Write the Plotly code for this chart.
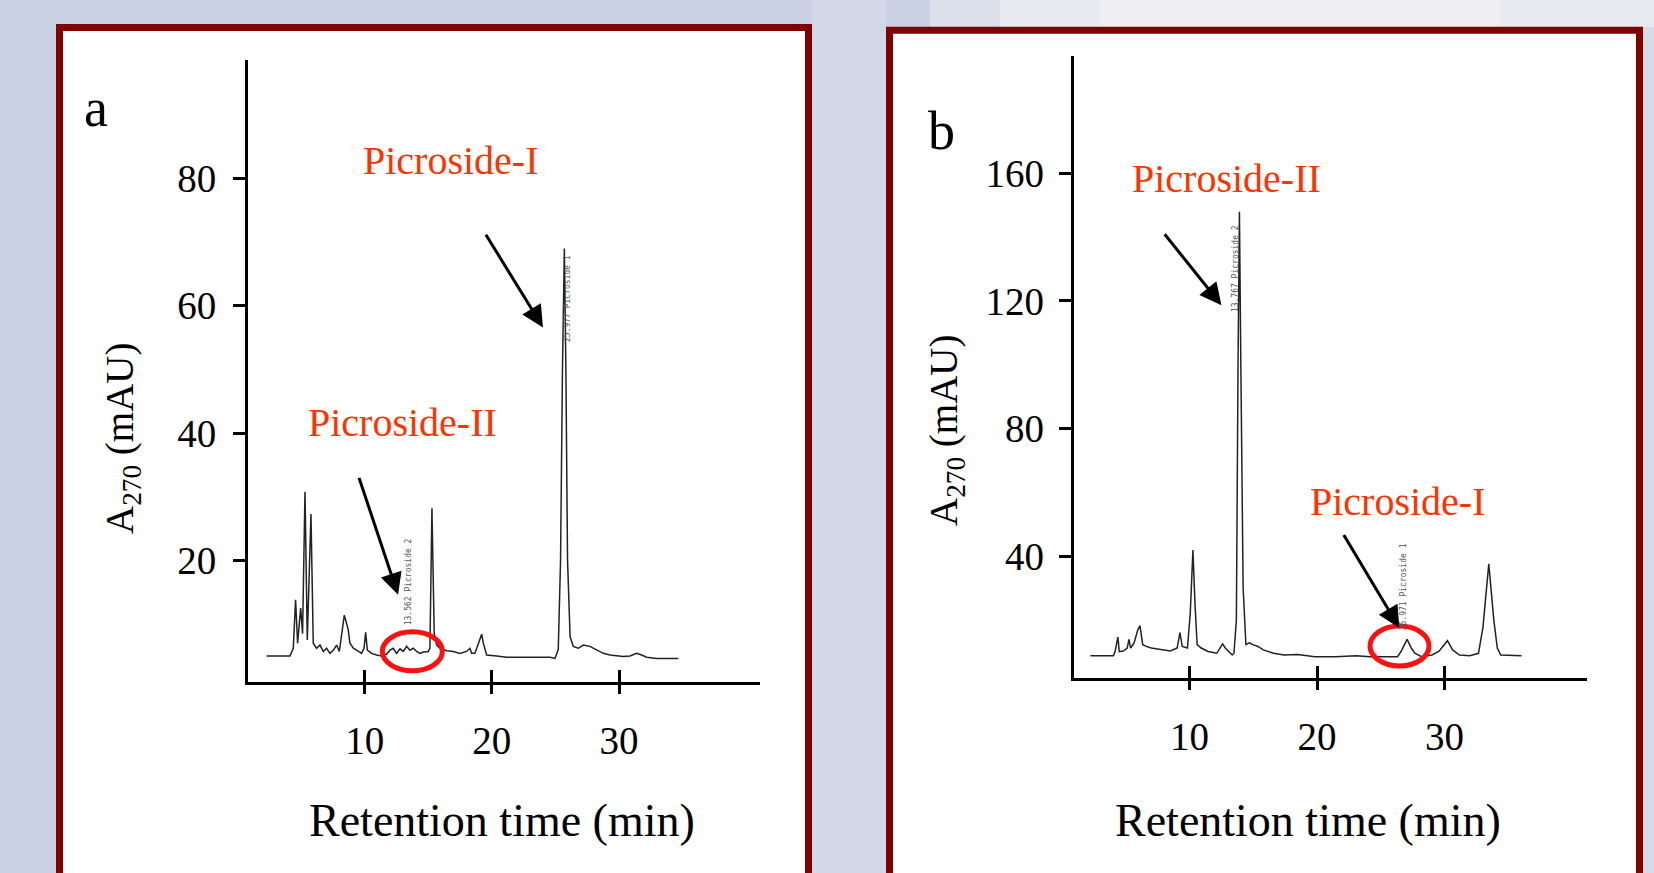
import plotly.graph_objects as go

W, H = 1654, 873


def px(x):
    return x / W


def py(y):
    return 1 - y / H


# ---------------- data ----------------
time_a = [2.29, 4.13, 4.39, 4.57, 4.73, 4.97, 5.12, 5.31, 5.49, 5.78, 5.96, 6.22, 6.49, 6.75,
          7.01, 7.27, 7.53, 7.80, 8.01, 8.19, 8.40, 8.58, 8.71, 8.84, 9.11, 9.37, 9.76, 9.95,
          10.08, 10.21, 10.55, 10.94, 11.33, 11.73, 11.99, 12.25, 12.51, 12.78, 13.04, 13.30,
          13.56, 13.82, 14.09, 14.35, 14.61, 15.00, 15.13, 15.29, 15.47, 15.66, 15.92, 16.44,
          16.97, 17.49, 18.02, 18.28, 18.41, 18.67, 19.07, 19.20, 19.33, 19.59, 20.38, 21.16,
          24.57, 24.96, 25.22, 25.40, 25.55, 25.70, 25.82, 25.95, 26.15, 26.40, 26.80, 27.19,
          27.71, 28.24, 28.76, 29.29, 29.81, 30.33, 30.86, 31.38, 31.77, 32.17, 32.95, 34.66]
abs_a = [5.0, 5.0, 6.2, 13.8, 7.0, 12.5, 8.5, 30.8, 7.5, 27.3, 7.0, 6.2, 6.7, 5.7,
         6.2, 5.4, 5.9, 6.7, 5.7, 8.0, 11.4, 10.1, 9.1, 7.0, 6.2, 5.9, 5.4, 6.2,
         8.7, 5.9, 5.4, 5.15, 5.0, 5.3, 5.9, 6.2, 5.4, 6.1, 5.7, 6.5,
         5.9, 6.2, 5.7, 5.4, 5.6, 5.7, 6.2, 28.2, 8.5, 6.7, 6.2, 5.8,
         5.7, 5.4, 5.7, 6.2, 5.4, 5.4, 7.5, 8.4, 7.0, 5.15, 5.0, 4.8,
         4.8, 4.6, 6.0, 20.0, 50.0, 69.0, 50.0, 20.0, 8.0, 6.5, 6.2, 6.7,
         6.5, 5.9, 5.4, 5.15, 5.0, 4.9, 5.0, 5.4, 5.15, 4.8, 4.6, 4.6]

time_b = [2.21, 4.02, 4.15, 4.37, 4.48, 4.83, 5.10, 5.24, 5.37, 5.64, 5.91, 6.10, 6.32, 6.59,
          6.99, 7.40, 7.94, 8.48, 9.02, 9.24, 9.42, 9.83, 10.05, 10.26, 10.42, 10.59, 10.91,
          11.45, 12.13, 12.40, 12.59, 12.80, 13.07, 13.34, 13.48, 13.67, 13.80, 13.91, 14.02,
          14.20, 14.42, 14.69, 14.96, 15.37, 15.78, 16.18, 16.59, 17.40, 18.48, 19.83, 21.45,
          23.07, 24.15, 26.32, 26.59, 27.07, 27.40, 27.67, 28.21, 29.02, 29.56, 30.24, 30.64,
          31.18, 31.99, 32.67, 33.02, 33.48, 33.88, 34.15, 34.42, 36.05]
abs_b = [8.8, 8.8, 10.1, 14.6, 10.1, 10.3, 11.2, 13.9, 11.2, 12.8, 16.6, 18.2, 12.25, 11.7,
         11.2, 10.95, 10.6, 10.3, 11.2, 16.0, 11.7, 11.2, 22.0, 41.9, 25.2, 12.25, 11.2,
         10.1, 9.55, 11.2, 12.5, 11.2, 10.1, 9.0, 9.55, 20.0, 100.0, 148.0, 100.0,
         30.0, 12.25, 12.8, 12.25, 11.7, 10.6, 10.1, 9.55, 9.0, 9.2, 8.5, 8.5,
         8.8, 8.5, 8.5, 10.1, 13.9, 11.2, 9.55, 8.5, 9.0, 10.1, 13.5, 10.6,
         9.0, 8.8, 9.55, 17.6, 37.6, 19.8, 11.2, 9.0, 8.8]

x_ticks = [10, 20, 30]
x_tick_text = ["10", "20", "30"]
y_ticks_a = [20, 40, 60, 80]
y_ticks_b = [40, 80, 120, 160]

SERIF = "Liberation Serif, Times New Roman, serif"
RED_TXT = "#FF3300"

fig = go.Figure()
line_style = dict(color="#222222", width=1.5)
fig.add_trace(go.Scatter(x=time_a, y=abs_a, xaxis="x", yaxis="y", mode="lines",
                         line=line_style, showlegend=False, hoverinfo="skip"))
fig.add_trace(go.Scatter(x=time_b, y=abs_b, xaxis="x2", yaxis="y2", mode="lines",
                         line=line_style, showlegend=False, hoverinfo="skip"))
# helper traces for the inner half of the x ticks
fig.add_trace(go.Scatter(x=[], y=[], xaxis="x3", yaxis="y", showlegend=False, hoverinfo="skip"))
fig.add_trace(go.Scatter(x=[], y=[], xaxis="x4", yaxis="y2", showlegend=False, hoverinfo="skip"))


def xaxis_main(dom, rng, anchor):
    return dict(domain=dom, range=rng, anchor=anchor, tickmode="array", tickvals=x_ticks,
                ticktext=x_tick_text, ticks="outside", ticklen=9, tickwidth=3, tickcolor="black",
                showline=True, linecolor="black", linewidth=3, showgrid=False, zeroline=False,
                tickfont=dict(family=SERIF, size=39, color="black"), ticklabelstandoff=13,
                fixedrange=True)


def xaxis_inner(over, dom, rng, anchor):
    return dict(overlaying=over, domain=dom, range=rng, anchor=anchor, tickmode="array",
                tickvals=x_ticks, ticks="inside", ticklen=12, tickwidth=3, tickcolor="black",
                showticklabels=False, showline=False, showgrid=False, zeroline=False,
                fixedrange=True)


def yaxis_main(dom, rng, anchor, vals, standoff):
    return dict(domain=dom, range=rng, anchor=anchor, tickmode="array", tickvals=vals,
                ticks="outside", ticklen=12, tickwidth=3, tickcolor="black",
                showline=True, linecolor="black", linewidth=3, showgrid=False, zeroline=False,
                tickfont=dict(family=SERIF, size=39, color="black"), ticklabelstandoff=standoff,
                fixedrange=True)


dom_xa = [px(248), px(759.5)]
dom_ya = [py(682), py(60)]
rng_xa = [0.83, 41.04]
dom_xb = [px(1073.8), px(1586.5)]
dom_yb = [py(678), py(55.7)]
rng_xb = [0.91, 41.15]

fig.update_layout(
    width=W, height=H, margin=dict(l=0, r=0, t=0, b=0),
    paper_bgcolor="#C9D1E3", plot_bgcolor="rgba(0,0,0,0)",
    xaxis=xaxis_main(dom_xa, rng_xa, "y"),
    yaxis=yaxis_main(dom_ya, [0.9, 98.6], "x", y_ticks_a, 9),
    xaxis2=xaxis_main(dom_xb, rng_xb, "y2"),
    yaxis2=yaxis_main(dom_yb, [1.8, 196.9], "x2", y_ticks_b, 7),
    xaxis3=xaxis_inner("x", dom_xa, rng_xa, "y"),
    xaxis4=xaxis_inner("x2", dom_xb, rng_xb, "y2"),
)

shapes = []
# slide background patches (soft lighter areas)
bg_patches = [
    (812, 886, 0, 873, "#D2D8E7"),
    (930, 1000, 0, 27, "#DCE0EC"),
    (1000, 1654, 0, 27, "#E9EAF1"),
    (1100, 1500, 0, 27, "#EFEEF3"),
    (1643, 1654, 27, 873, "#D6DBE8"),
]
for x0, x1, y0, y1, c in bg_patches:
    shapes.append(dict(type="rect", xref="paper", yref="paper", x0=px(x0), x1=px(x1),
                       y0=py(y1), y1=py(y0), fillcolor=c, line=dict(width=0), layer="below"))
# panel frames
shapes.append(dict(type="rect", xref="paper", yref="paper", x0=px(59.5), x1=px(808.5),
                   y0=-0.05, y1=py(27.5), fillcolor="white",
                   line=dict(color="#800000", width=7), layer="below"))
shapes.append(dict(type="rect", xref="paper", yref="paper", x0=px(889.5), x1=px(1639.5),
                   y0=-0.05, y1=py(30.2), fillcolor="white",
                   line=dict(color="#800000", width=7), layer="below"))
# red ellipses
shapes.append(dict(type="circle", xref="x", yref="y", x0=11.39, x1=16.11, y0=2.65, y1=8.78,
                   line=dict(color="#FF1010", width=5), layer="above"))
shapes.append(dict(type="circle", xref="x2", yref="y2", x0=24.16, x1=28.79, y0=5.55, y1=18.09,
                   line=dict(color="#FF1010", width=5), layer="above"))
fig.update_layout(shapes=shapes)

ann = []


def text(x, y, s, size, color="black", angle=0):
    ann.append(dict(xref="paper", yref="paper", x=px(x), y=py(y), text=s, showarrow=False,
                    xanchor="center", yanchor="middle", textangle=angle,
                    font=dict(family=SERIF, size=size, color=color)))


def arrow(xr, yr, x, y, ax, ay):
    ann.append(dict(xref=xr, yref=yr, axref=xr, ayref=yr, x=x, y=y, ax=ax, ay=ay, text="",
                    showarrow=True, arrowhead=2, arrowsize=1.45, arrowwidth=3,
                    arrowcolor="black", standoff=0))


def small(xr, yr, x, y, s):
    ann.append(dict(xref=xr, yref=yr, x=x, y=y, text=s, showarrow=False, textangle=-90,
                    xanchor="center", yanchor="bottom",
                    font=dict(family="DejaVu Sans Mono", size=8, color="#555555")))


# panel a
text(96, 108, "a", 54)
text(451, 160, "Picroside-I", 40, RED_TXT)
text(402.5, 422, "Picroside-II", 40, RED_TXT)
text(122, 438, "A<sub>270</sub> (mAU)", 39, angle=-90)
text(502, 820, "Retention time (min)", 46)
arrow("x", "y", 24.02, 56.6, 19.46, 71.4)
arrow("x", "y", 12.63, 14.6, 9.52, 33.2)
small("x", "y", 13.45, 9.5, "13.562 Picroside 2")
small("x", "y", 25.95, 54.0, "25.977 Picroside 1")

# panel b
text(941, 131, "b", 54)
text(1226.5, 179, "Picroside-II", 40, RED_TXT)
text(1398, 502, "Picroside-I", 40, RED_TXT)
text(946, 430, "A<sub>270</sub> (mAU)", 39, angle=-90)
text(1308, 820, "Retention time (min)", 46)
arrow("x2", "y2", 12.50, 118.7, 7.95, 141.4)
arrow("x2", "y2", 26.46, 17.5, 22.03, 47.1)
small("x2", "y2", 13.55, 116.0, "13.767 Picroside 2")
small("x2", "y2", 26.75, 16.0, "26.971 Picroside 1")

fig.update_layout(annotations=ann)

fig.write_html("out.html")
